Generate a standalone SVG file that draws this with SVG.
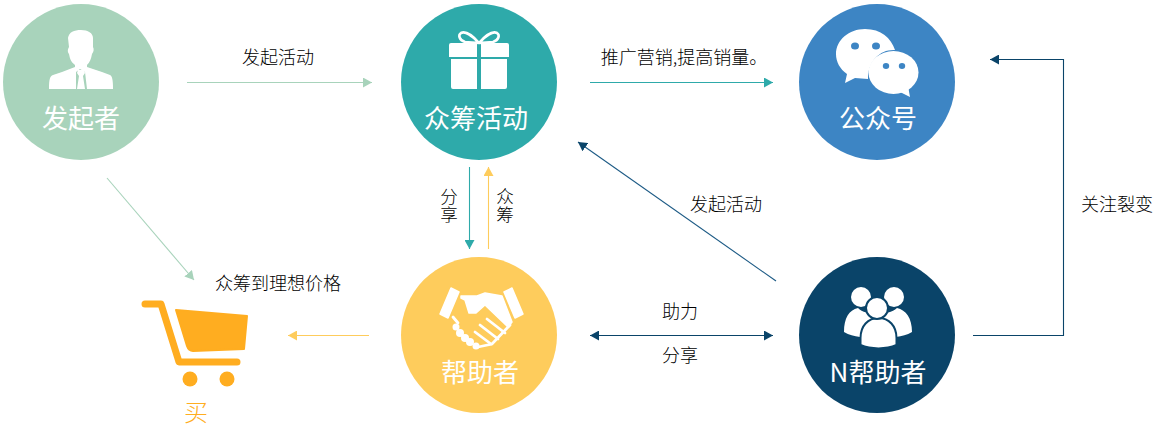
<svg xmlns="http://www.w3.org/2000/svg" width="1156" height="438" viewBox="0 0 1156 438">
<style>
text{font-family:"Noto Sans CJK SC","Noto Sans",sans-serif;font-weight:300}
.n{font-size:26px;fill:#fff;text-anchor:middle;font-weight:400}
.l{font-size:18px;fill:#000;text-anchor:middle}
.v{font-size:17.5px;fill:#000;writing-mode:vertical-rl;letter-spacing:0.5px}
.i{fill:#fff}
.c{fill:none;stroke-width:1.1}
</style>
<defs>
<marker id="ag" markerUnits="userSpaceOnUse" markerWidth="10" markerHeight="10" refX="9" refY="5" orient="auto-start-reverse"><path d="M0 0L9 5L0 10Z" fill="#a8d3bb"/></marker>
<marker id="at" markerUnits="userSpaceOnUse" markerWidth="10" markerHeight="10" refX="9" refY="5" orient="auto-start-reverse"><path d="M0 0L9 5L0 10Z" fill="#2eaaaa"/></marker>
<marker id="ay" markerUnits="userSpaceOnUse" markerWidth="10" markerHeight="10" refX="9" refY="5" orient="auto-start-reverse"><path d="M0 0L9 5L0 10Z" fill="#fecc5c"/></marker>
<marker id="an" markerUnits="userSpaceOnUse" markerWidth="10" markerHeight="10" refX="9" refY="5" orient="auto-start-reverse"><path d="M0 0L9 5L0 10Z" fill="#0a4469"/></marker>
</defs>
<g id="connectors">
<path class="c" stroke="#a8d3bb" d="M187 82.500H372" marker-end="url(#ag)"/>
<path class="c" stroke="#2eaaaa" d="M590 82.500H773" marker-end="url(#at)"/>
<path class="c" stroke="#a8d3bb" d="M107 178L194 280" marker-end="url(#ag)"/>
<path class="c" stroke="#2eaaaa" d="M469.500 167V249" marker-end="url(#at)"/>
<path class="c" stroke="#fecc5c" d="M488.500 249V167" marker-end="url(#ay)"/>
<path class="c" stroke="#1c5a85" d="M776 281L578 142" marker-end="url(#an)"/>
<path class="c" stroke="#0a4469" d="M590 335.500H773" marker-start="url(#an)" marker-end="url(#an)"/>
<path class="c" stroke="#fecc5c" d="M369 335.500H288" marker-end="url(#ay)"/>
<path class="c" stroke="#0a4469" d="M973 335.500H1063.500V59.500H990" marker-end="url(#an)"/>
</g>
<g id="labels">
<text class="l" x="684" y="64">推广营销,提高销量。</text>
<text class="l" x="278" y="64">发起活动</text>
<text class="l" x="726" y="211">发起活动</text>
<text class="l" x="278" y="290">众筹到理想价格</text>
<text class="v" x="449" y="188">分享</text>
<text class="v" x="505" y="188">众筹</text>
<text class="l" x="680" y="318">助力</text>
<text class="l" x="680" y="362">分享</text>
<text class="l" x="1117" y="211">关注裂变</text>
</g>
<g id="faqizhe">
<circle cx="81" cy="82" r="78" fill="#a8d3bb"/>
<path class="i" d="M68 38C69 32 74 30 81 30C88 30 93 33 93 38L93 47C94 49 94 51 92 54C91 59 90 62 87 65L87 67L102 72L110 75C112 76 113 79 113 89H87L85 72L80 69L76 72L76 89H49C49 79 50 76 53 75L62 72L75 67L75 65C71 62 70 59 69 54C67 51 68 49 69 47Z"/>
<path class="i" d="M78 70H84L85 73L83 76L85 89H77L79 76L77 73Z"/>
<text class="n" x="81" y="128">发起者</text>
</g>
<g id="zhongchou">
<circle cx="479" cy="82" r="78" fill="#2eaaaa"/>
<path fill="none" stroke="#fff" stroke-width="2.600" d="M479 43C472 35 465 31 461 33C458 35 459 40 465 42L479 43C486 35 493 31 497 33C500 35 499 40 493 42L479 43"/>
<path class="i" d="M449 45a2 2 0 0 1 2-2H477V57H449ZM481 43H507a2 2 0 0 1 2 2V57H481ZM451 59H477V89H453a2 2 0 0 1-2-2ZM481 59H507V87a2 2 0 0 1-2 2H481Z"/>
<text class="n" x="476" y="128">众筹活动</text>
</g>
<g id="gongzhonghao">
<circle cx="877" cy="82" r="78" fill="#3d85c4"/>
<path class="i" d="M865 29C881 29 891 38 895 50C881 49 868 60 868 79L855 78L845 83L847 74C840 69 836 62 836 54C836 40 849 29 865 29Z"/>
<ellipse class="i" cx="893.500" cy="72.500" rx="25" ry="21.500"/>
<path class="i" d="M900 92L910 97L908 86Z"/>
<g fill="#3d85c4"><ellipse cx="855" cy="46" rx="4" ry="3.600"/><ellipse cx="876" cy="46" rx="4" ry="3.600"/><ellipse cx="886" cy="66" rx="3.200" ry="3"/><ellipse cx="902" cy="66" rx="3.200" ry="3"/></g>
<text class="n" x="878" y="128">公众号</text>
</g>
<g id="bangzhuzhe">
<circle cx="479" cy="335" r="78" fill="#fecc5c"/>
<g fill="#fff" stroke="#fff" stroke-width="1.500" stroke-linejoin="round">
<path d="M451 288L459 292L448 318L440 314ZM504 292L512 288L523 314L515 318Z"/>
<path d="M461 296H477L485 293L502 296L512 322L508 327L485 305L476 313H469L465 300L461 298Z"/>
</g>
<g fill="none" stroke="#fff" stroke-width="2.800" stroke-linecap="round">
<path d="M510 325L492 344L478 347"/>
<path d="M487 319L505 333M480 325L498 339M475 332L491 344"/>
<path d="M453 317L458 323"/>
</g>
<g fill="#fff"><circle cx="456" cy="327" r="3.500"/><circle cx="460" cy="333" r="4"/><circle cx="465" cy="338" r="4"/><circle cx="470" cy="342" r="4"/><circle cx="476" cy="346" r="3.500"/></g>
<text class="n" x="480" y="382">帮助者</text>
</g>
<g id="nbangzhuzhe">
<circle cx="877" cy="335" r="78" fill="#0a4469"/>
<circle class="i" cx="861" cy="297" r="10"/>
<circle class="i" cx="894" cy="297" r="10"/>
<path class="i" d="M844 332C844 318 849 310 858 308C866 316 888 316 897 308C906 310 912 318 912 332C907 335 902 336 896 337H860C854 336 849 335 844 332Z"/>
<path class="i" stroke="#0a4469" stroke-width="2" d="M860.500 345V338C860.500 326 868 318 878.500 318C889 318 896.500 326 896.500 338V345C886 349.500 871 349.500 860.500 345Z"/>
<circle class="i" cx="877" cy="308" r="11" stroke="#0a4469" stroke-width="2"/>
<text class="n" x="878" y="382">N帮助者</text>
</g>
<g id="mai">
<path fill="none" stroke="#ffad20" stroke-width="7" stroke-linecap="round" stroke-linejoin="round" d="M145 304H161L179 362H237"/>
<path fill="#ffad20" stroke="#ffad20" stroke-width="2" stroke-linejoin="round" d="M176 310L247 316L244 349L193 351C190 351 188 349 187 346Z"/>
<circle cx="190" cy="379" r="7.500" fill="#ffad20"/>
<circle cx="227" cy="379" r="7.500" fill="#ffad20"/>
<text x="196" y="421" font-size="24" fill="#ffad20" text-anchor="middle">买</text>
</g>
</svg>
